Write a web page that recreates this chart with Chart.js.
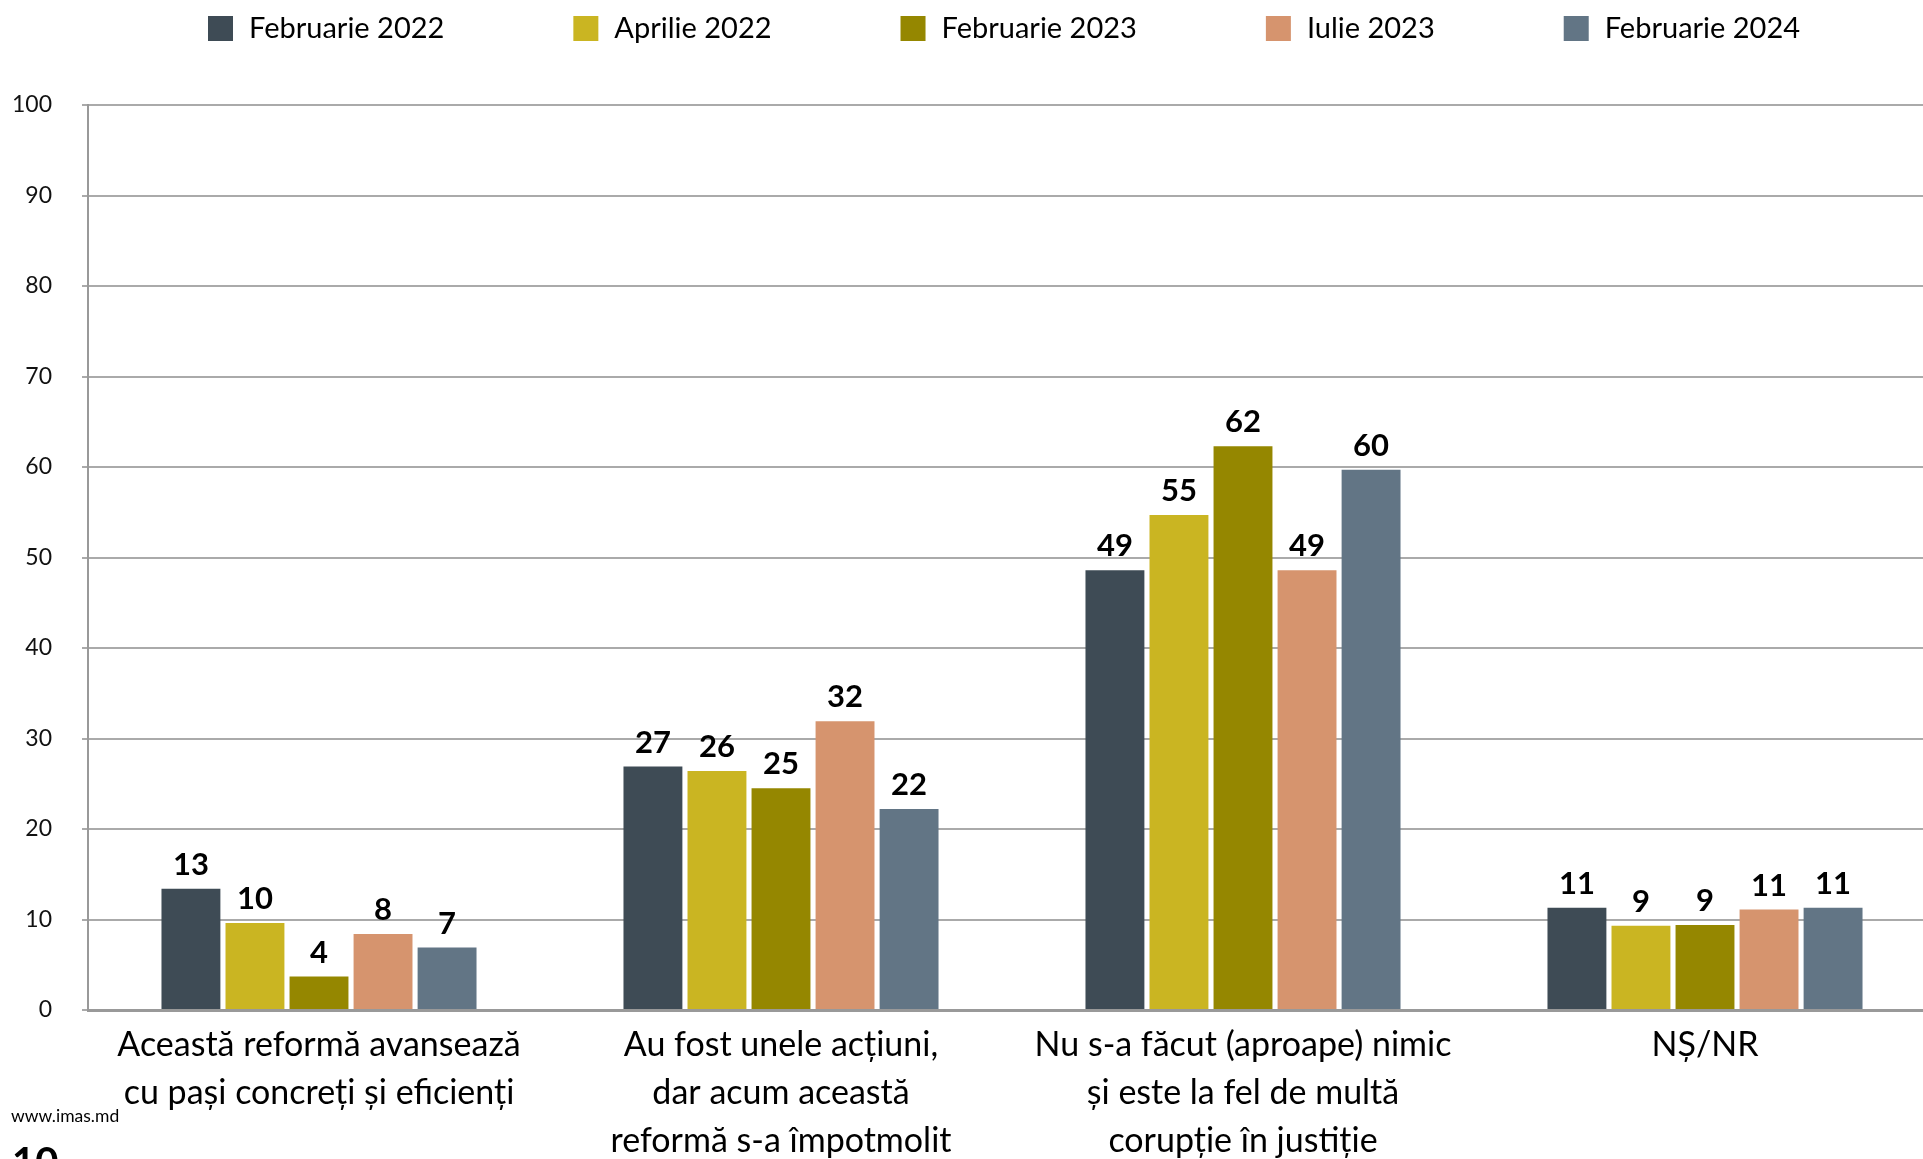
<!DOCTYPE html>
<html>
<head>
<meta charset="utf-8">
<script src="https://cdn.jsdelivr.net/npm/chart.js@4.4.1/dist/chart.umd.min.js"></script>
<style>
  html, body { margin: 0; padding: 0; background: #fff; overflow: hidden; }
  #wrap { position: absolute; left: 0; top: 0; width: 1936px; height: 1159px; }
</style>
</head>
<body>
<div id="wrap"><canvas id="reformChart"></canvas></div>
<script>
// categories (multi-line labels)
const categories = [
    ['Această reformă avansează', 'cu pași concreți și eficienți'],
    ['Au fost unele acțiuni,', 'dar acum această', 'reformă s-a împotmolit'],
    ['Nu s-a făcut (aproape) nimic', 'și este la fel de multă', 'corupție în justiție'],
    ['NȘ/NR']
];

// survey waves
const seriesNames = ['Februarie 2022', 'Aprilie 2022', 'Februarie 2023', 'Iulie 2023', 'Februarie 2024'];
const seriesColors = ['#3e4b55', '#cab522', '#958700', '#d6946e', '#627585'];

// values
const feb2022 = [13.4, 26.9, 48.6, 11.3];
const apr2022 = [9.6, 26.4, 54.7, 9.3];
const feb2023 = [3.7, 24.5, 62.3, 9.4];
const iul2023 = [8.4, 31.9, 48.6, 11.1];
const feb2024 = [6.9, 22.2, 59.7, 11.3];

const yTicks = [0, 10, 20, 30, 40, 50, 60, 70, 80, 90, 100];

const FONT = 'Lato, "Noto Sans", sans-serif';

// value labels above each bar
const barLabels = {
    id: 'barLabels',
    afterDatasetsDraw(chart) {
        const ctx = chart.ctx;
        ctx.save();
        ctx.font = 'bold 31px ' + FONT;
        ctx.fillStyle = '#000';
        ctx.textAlign = 'center';
        ctx.textBaseline = 'alphabetic';
        chart.data.datasets.forEach((ds, i) => {
            chart.getDatasetMeta(i).data.forEach((bar, j) => {
                ctx.fillText(String(Math.round(ds.data[j])), bar.x, bar.y - 14);
            });
        });
        ctx.restore();
    }
};

// legend row + page footer
const topLegend = {
    id: 'topLegend',
    afterDraw(chart) {
        const ctx = chart.ctx;
        ctx.save();
        ctx.font = '29px ' + FONT;
        ctx.textBaseline = 'middle';
        ctx.textAlign = 'left';
        let x = 208;
        chart.data.datasets.forEach(ds => {
            ctx.fillStyle = ds.backgroundColor;
            ctx.fillRect(x, 16, 25, 25);
            ctx.fillStyle = '#000';
            ctx.fillText(ds.label, x + 41, 29);
            x += 41 + ctx.measureText(ds.label).width + 129;
        });

        ctx.font = '17.5px ' + FONT;
        ctx.textBaseline = 'alphabetic';
        ctx.fillText('www.imas.md', 11, 1122);
        ctx.font = 'bold 40px ' + FONT;
        ctx.fillText('10', 12, 1176);
        ctx.restore();
    }
};

const datasets = [feb2022, apr2022, feb2023, iul2023, feb2024].map((values, i) => ({
    label: seriesNames[i],
    data: values,
    backgroundColor: seriesColors[i],
    borderWidth: 0,
    categoryPercentage: 0.693,
    barPercentage: 0.92
}));

const ctx = document.getElementById('reformChart').getContext('2d');
const reformChart = new Chart(ctx, {
    type: 'bar',
    data: { labels: categories, datasets: datasets },
    options: {
        responsive: true,
        maintainAspectRatio: false,
        animation: false,
        layout: { padding: { top: 105, left: 0, right: 0, bottom: 0 } },
        plugins: {
            legend: { display: false },
            tooltip: { enabled: false }
        },
        scales: {
            x: {
                grid: { display: false },
                border: { display: true, color: '#999', width: 3 },
                ticks: {
                    color: '#000',
                    padding: 3,
                    maxRotation: 0,
                    autoSkip: false,
                    font: { family: FONT, size: 34, lineHeight: 1.41 }
                },
                afterFit: (scale) => { scale.height = 149; }
            },
            y: {
                min: 0,
                max: 100,
                afterBuildTicks: (scale) => { scale.ticks = yTicks.map(v => ({ value: v })); },
                grid: { color: '#aaa', lineWidth: 2, tickLength: 6 },
                border: { display: true, color: '#999', width: 2 },
                ticks: {
                    color: '#111',
                    padding: 30,
                    font: { family: FONT, size: 23 }
                },
                afterFit: (scale) => { scale.width = 88; }
            }
        }
    },
    plugins: [barLabels, topLegend]
});
</script>
</body>
</html>
